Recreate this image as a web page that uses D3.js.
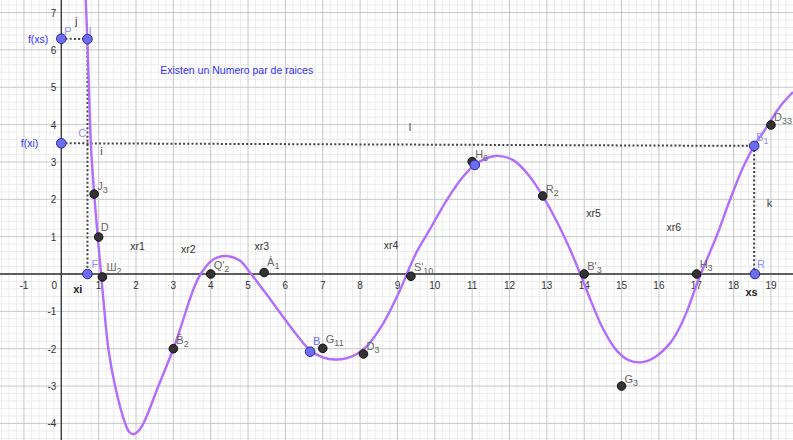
<!DOCTYPE html>
<html>
<head>
<meta charset="utf-8">
<script src="https://cdn.jsdelivr.net/npm/d3@7"></script>
<style>
  html, body { margin: 0; padding: 0; background: #fff; }
  svg { display: block; }
  text { font-family: "Liberation Sans", Arial, sans-serif; }
</style>
</head>
<body>
<svg id="chart" width="793" height="440"></svg>
<script>
// Sampled points of the function graph f(x)
const curveX = [0.655, 0.695, 0.74, 0.79, 0.88, 0.975, 1.065, 1.155, 1.26, 1.44, 1.71, 1.82, 1.93, 2.05, 2.20, 2.60, 3.00, 3.20, 3.40, 3.58, 3.72, 3.98, 4.20, 4.45, 4.78, 5.05, 5.50, 5.94, 6.39, 6.66, 7.00, 7.33, 7.65, 7.91, 8.18, 8.62, 9.07, 9.25, 9.52, 9.87, 10.32, 10.76, 11.12, 11.61, 12.10, 12.55, 12.90, 13.26, 13.62, 13.89, 14.20, 14.51, 14.87, 15.20, 15.55, 15.90, 16.30, 16.52, 16.75, 16.95, 17.12, 17.55, 17.90, 18.26, 18.55, 18.89, 19.24, 19.59];
const curveY = [7.34, 6.30, 5.00, 3.50, 2.14, 1.00, 0.00, -1.00, -2.00, -3.00, -4.00, -4.23, -4.29, -4.22, -4.00, -3.00, -2.00, -1.42, -0.80, -0.30, -0.02, 0.32, 0.45, 0.48, 0.36, 0.04, -0.55, -1.15, -1.74, -2.04, -2.23, -2.29, -2.25, -2.14, -1.93, -1.32, -0.43, 0.00, 0.60, 1.20, 1.98, 2.61, 2.96, 3.16, 3.05, 2.60, 2.07, 1.42, 0.66, 0.01, -0.77, -1.48, -2.05, -2.31, -2.36, -2.22, -1.85, -1.50, -1.00, -0.45, 0.00, 1.03, 1.98, 2.87, 3.43, 3.94, 4.48, 4.87];

// Free points (dark) and constructed points (blue)
const pointNames = ["J_3", "D", "Ш_2", "B̄_2", "Q'_2", "Ȧ_1", "G_11", "D_3", "S'_10", "H_6", "R_2", "B'_3", "G_3", "H_3", "D_33",
                    "P", "I", "C", "F", "B", "H_6b", "B_1", "R"];
const pointX = [0.88, 1.00, 1.10, 3.00, 4.00, 5.43, 7.00, 8.09, 9.36, 11.00, 12.89, 14.00, 15.00, 17.01, 19.00,
                0.00, 0.70, 0.00, 0.70, 6.66, 11.07, 18.55, 18.57];
const pointY = [2.14, 0.99, -0.08, -2.00, 0.00, 0.04, -1.99, -2.14, -0.06, 3.01, 2.09, 0.00, -3.00, 0.00, 3.99,
                6.30, 6.29, 3.50, 0.00, -2.08, 2.92, 3.43, 0.00];
const pointKind = ["dark", "dark", "dark", "dark", "dark", "dark", "dark", "dark", "dark", "dark", "dark", "dark", "dark", "dark", "dark",
                   "blue", "blue", "blue", "blue", "blue", "blue", "blue", "blue"];

// Dotted construction segments: [x1, y1, x2, y2]
const segmentNames = ["j", "i", "l", "k"];
const segX1 = [0.00, 0.70, 0.00, 18.55];
const segY1 = [6.30, 6.29, 3.50, 3.43];
const segX2 = [0.70, 0.70, 18.55, 18.55];
const segY2 = [6.29, 0.00, 3.43, 0.00];

// Interval names for the roots
const rootLabels = ["xr1", "xr2", "xr3", "xr4", "xr5", "xr6"];

const xTicks = d3.range(-1, 20);
const yTicks = d3.range(-4, 8);

const W = 793, H = 440;
const svg = d3.select("#chart");

const x = d3.scaleLinear().domain([-1.6412, 19.590]).range([0, W]);
const y = d3.scaleLinear().domain([7.336, -4.444]).range([0, H]);

// grid: minor every 0.2, major every 1
const minorX = d3.range(-8, 98).map(i => i / 5).filter(v => Math.abs(v - Math.round(v)) > 1e-6);
const minorY = d3.range(-22, 37).map(i => i / 5).filter(v => Math.abs(v - Math.round(v)) > 1e-6);
const majorX = d3.range(-1, 20);
const majorY = d3.range(-4, 8);

const grid = svg.append("g");
grid.selectAll(".mx").data(minorX).join("line")
  .attr("x1", d => x(d)).attr("x2", d => x(d)).attr("y1", 0).attr("y2", H)
  .attr("stroke", "#ececec").attr("stroke-width", 1);
grid.selectAll(".my").data(minorY).join("line")
  .attr("y1", d => y(d)).attr("y2", d => y(d)).attr("x1", 0).attr("x2", W)
  .attr("stroke", "#ececec").attr("stroke-width", 1);
grid.selectAll(".Mx").data(majorX).join("line")
  .attr("x1", d => x(d)).attr("x2", d => x(d)).attr("y1", 0).attr("y2", H)
  .attr("stroke", "#c6c6c6").attr("stroke-width", 1);
grid.selectAll(".My").data(majorY).join("line")
  .attr("y1", d => y(d)).attr("y2", d => y(d)).attr("x1", 0).attr("x2", W)
  .attr("stroke", "#c6c6c6").attr("stroke-width", 1);

// axes
svg.append("line").attr("x1", 0).attr("x2", W).attr("y1", y(0)).attr("y2", y(0))
  .attr("stroke", "#333").attr("stroke-width", 1.3);
svg.append("line").attr("x1", x(0)).attr("x2", x(0)).attr("y1", 0).attr("y2", H)
  .attr("stroke", "#333").attr("stroke-width", 1.3);

// tick labels
svg.append("g").selectAll("text").data(xTicks).join("text")
  .attr("x", d => d === 0 ? x(0) - 7 : x(d))
  .attr("y", y(0) + 15)
  .attr("text-anchor", "middle")
  .attr("font-size", 10).attr("fill", "#333")
  .text(d => d === 0 ? "0" : (d < 0 ? "-" + Math.abs(d) : d));
svg.append("g").selectAll("text").data(yTicks.filter(d => d !== 0)).join("text")
  .attr("x", x(0) - 5)
  .attr("y", d => y(d) + 4)
  .attr("text-anchor", "end")
  .attr("font-size", 10).attr("fill", "#333")
  .text(d => d < 0 ? "-" + Math.abs(d) : d);

// dotted construction segments
svg.append("g").selectAll("line").data(segmentNames.map((n, i) => i)).join("line")
  .attr("x1", i => x(segX1[i])).attr("y1", i => y(segY1[i]))
  .attr("x2", i => x(segX2[i])).attr("y2", i => y(segY2[i]))
  .attr("stroke", "#444").attr("stroke-width", 2).attr("stroke-dasharray", "2,2.2");

// function graph
const curveData = curveX.map((v, i) => [v, curveY[i]]);
svg.append("path")
  .datum(curveData)
  .attr("d", d3.line().x(d => x(d[0])).y(d => y(d[1])).curve(d3.curveCatmullRom.alpha(0.5)))
  .attr("fill", "none").attr("stroke", "#b26cff").attr("stroke-width", 2.4);

// points
const pts = pointNames.map((n, i) => ({ name: n, x: pointX[i], y: pointY[i], kind: pointKind[i] }));
svg.append("g").selectAll("circle").data(pts).join("circle")
  .attr("cx", d => x(d.x)).attr("cy", d => y(d.y))
  .attr("r", d => d.kind === "blue" ? 4.8 : 4.3)
  .attr("fill", d => d.kind === "blue" ? "#6c6cf4" : "#333")
  .attr("stroke", d => d.kind === "blue" ? "#2a2a90" : "#111")
  .attr("stroke-width", 1);

// point labels: offsets in px from the point to the label's left baseline
const labelOffset = {
  "J_3": [3, -4], "D": [2, -6], "Ш_2": [4, -6], "B̄_2": [3, -5], "Q'_2": [3, -5], "Ȧ_1": [3, -7],
  "G_11": [3, -5], "D_3": [3, -4], "S'_10": [3, -5], "H_6": [3, -4], "R_2": [3, -3], "B'_3": [3, -4],
  "G_3": [3, -3], "H_3": [3, -6], "D_33": [3, -4],
  "P": [3, -4], "I": [1, -4], "C": [17, -6], "F": [4, -6], "B": [3, -7], "B_1": [2, -5], "R": [2, -6]
};
const labelled = pts.filter(d => labelOffset[d.name]);
const lab = svg.append("g").selectAll("text").data(labelled).join("text")
  .attr("x", d => x(d.x) + labelOffset[d.name][0])
  .attr("y", d => y(d.y) + labelOffset[d.name][1])
  .attr("font-size", 11)
  .attr("fill", d => d.kind === "blue" ? (d.name === "B" ? "#6a6aff" : "#9090ff") : "#666");
lab.each(function(d) {
  const parts = d.name.split("_");
  const t = d3.select(this);
  t.append("tspan").text(parts[0]);
  if (parts[1]) t.append("tspan").attr("dy", 3).attr("font-size", 9).text(parts[1]);
});

// segment labels
const segLabelPos = { "j": [0.37, 6.67], "i": [1.04, 3.19], "l": [9.30, 3.84], "k": [18.89, 1.79] };
svg.append("g").selectAll("text").data(segmentNames).join("text")
  .attr("x", d => x(segLabelPos[d][0])).attr("y", d => y(segLabelPos[d][1]))
  .attr("font-size", 11).attr("fill", "#444")
  .text(d => d);

// root interval labels
const rootLabelPos = [[2.04, 0.63], [3.40, 0.55], [5.37, 0.65], [8.83, 0.68], [14.25, 1.53], [16.40, 1.15]];
svg.append("g").selectAll("text").data(rootLabels).join("text")
  .attr("x", (d, i) => x(rootLabelPos[i][0])).attr("y", (d, i) => y(rootLabelPos[i][1]))
  .attr("text-anchor", "middle")
  .attr("font-size", 10.5).attr("fill", "#333")
  .text(d => d);

// axis value captions
svg.append("text").attr("x", x(0) - 13).attr("y", y(6.3) + 4)
  .attr("text-anchor", "end").attr("font-size", 10.5).attr("fill", "#2f2fff").text("f(xs)");
svg.append("text").attr("x", x(0) - 23).attr("y", y(3.5) + 4)
  .attr("text-anchor", "end").attr("font-size", 10.5).attr("fill", "#2f2fff").text("f(xi)");
svg.append("text").attr("x", x(0.44)).attr("y", y(0) + 19)
  .attr("text-anchor", "middle").attr("font-size", 11).attr("font-weight", "bold").attr("fill", "#222").text("xi");
svg.append("text").attr("x", x(18.48)).attr("y", y(0) + 22)
  .attr("text-anchor", "middle").attr("font-size", 11).attr("font-weight", "bold").attr("fill", "#222").text("xs");

// caption
svg.append("text").attr("x", x(2.65)).attr("y", y(5.36))
  .attr("font-size", 10.5).attr("fill", "#2f2fff")
  .text("Existen un Numero par de raices");
</script>
</body>
</html>
